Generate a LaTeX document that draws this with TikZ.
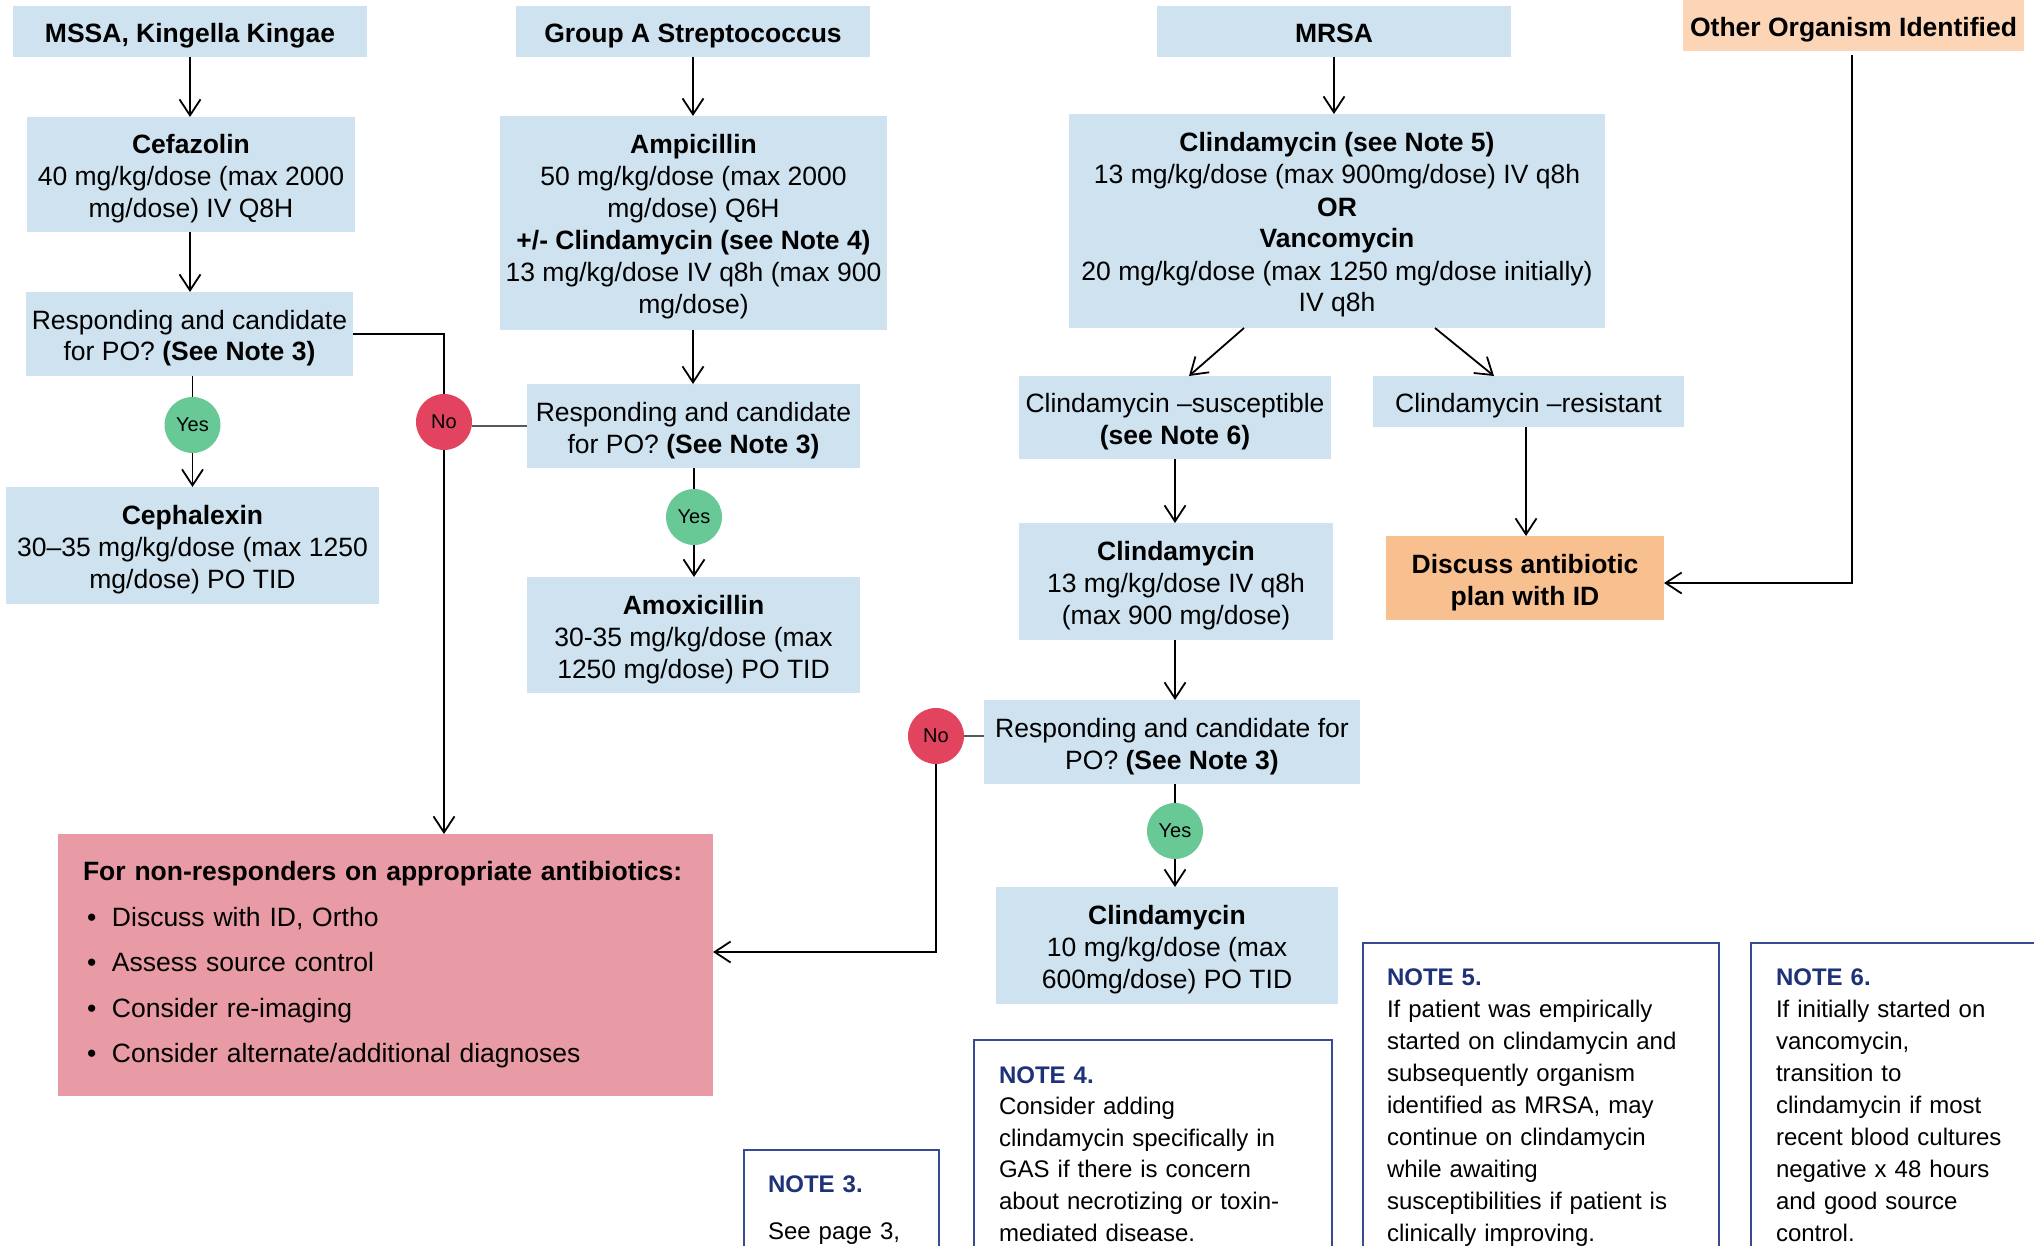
\documentclass[tikz,border=0pt]{standalone}
\usepackage{fontspec}
\setmainfont{Liberation Sans}
\usetikzlibrary{arrows.meta,calc}
\definecolor{boxblue}{RGB}{206,226,239}
\definecolor{otherorg}{RGB}{251,213,181}
\definecolor{discorg}{RGB}{249,192,143}
\definecolor{pinkbox}{RGB}{233,155,165}
\definecolor{yesgreen}{RGB}{104,201,151}
\definecolor{nored}{RGB}{226,68,96}
\definecolor{navy}{RGB}{30,50,120}
\definecolor{noteline}{RGB}{55,75,145}
\newcommand{\bigtxt}{\fontsize{26.5pt}{32pt}\selectfont}
\newcommand{\notetxt}{\fontsize{24pt}{32pt}\selectfont}
\newcommand{\nhead}[1]{\textcolor{navy}{\textbf{#1}}}
\newcommand{\fl}{\rule{0pt}{27.5pt}}
\begin{document}
\begin{tikzpicture}[x=1pt,y=-1pt,
  every node/.style={inner sep=0pt, outer sep=0pt, align=center, font=\bigtxt},
  box/.style 2 args={fill=boxblue, minimum width=#1pt, minimum height=#2pt},
  single/.style={text height=21.5pt, text depth=0pt},
  bold/.style={font=\bigtxt\bfseries},
  yesc/.style={circle, fill=yesgreen, minimum size=56pt, font=\fontsize{20pt}{24pt}\selectfont},
  noc/.style={circle, fill=nored, minimum size=56pt, font=\fontsize{20pt}{24pt}\selectfont},
  arr/.style={line width=1.8pt, -{Straight Barb[length=16pt,width=21pt]}},
  ln/.style={line width=1.8pt},
  thinln/.style={line width=1.3pt, draw=black!65},
  noteframe/.style={draw=noteline, line width=1.5pt, fill=white, minimum width=#1pt, minimum height=400pt, anchor=north west},
  notetext/.style={anchor=base west, align=left, text width=#1pt, font=\notetxt}
]
\useasboundingbox (0,0) rectangle (2034,1246);
\clip (0,0) rectangle (2034,1246);

% top row
\node[box={354}{51}, single, bold] (mssa) at (190,31.5) {MSSA, Kingella Kingae};
\node[box={354}{51}, single, bold] (gas) at (693,31.5) {Group A Streptococcus};
\node[box={354}{51}, single, bold] (mrsa) at (1334,31.5) {MRSA};
\node[box={341}{51}, single, fill=otherorg, bold] (other) at (1853.5,25.5) {Other Organism Identified};

% left column
\node[box={328}{115}] (cefaz) at (191,174.5) {\fl\textbf{Cefazolin}\\40 mg/kg/dose (max 2000\\mg/dose) IV Q8H};
\node[box={327}{84}] (resp1) at (189.5,334) {\fl Responding and candidate\\for PO? \textbf{(See Note 3)}};
\node[yesc] (yes1) at (192.5,425) {Yes};
\node[box={373}{117}] (ceph) at (192.5,545.5) {\fl\textbf{Cephalexin}\\30–35 mg/kg/dose (max 1250\\mg/dose) PO TID};
\node[noc] (no1) at (444,422) {No};

% middle column
\node[box={387}{214}] (ampi) at (693.5,223) {\fl\textbf{Ampicillin}\\50 mg/kg/dose (max 2000\\mg/dose) Q6H\\\textbf{+/- Clindamycin (see Note 4)}\\13 mg/kg/dose IV q8h (max 900\\mg/dose)};
\node[box={333}{84}] (resp2) at (693.5,426) {\fl Responding and candidate\\for PO? \textbf{(See Note 3)}};
\node[yesc] (yes2) at (694,517) {Yes};
\node[box={333}{116}] (amox) at (693.5,635) {\fl\textbf{Amoxicillin}\\30-35 mg/kg/dose (max\\1250 mg/dose) PO TID};

% MRSA column
\node[box={536}{214}] (clvan) at (1337,221) {\fl\textbf{Clindamycin (see Note 5)}\\13 mg/kg/dose (max 900mg/dose) IV q8h\\\textbf{OR}\\\textbf{Vancomycin}\\20 mg/kg/dose (max 1250 mg/dose initially)\\IV q8h};
\node[box={312}{83}] (susc) at (1175,417.5) {\fl Clindamycin –susceptible\\\textbf{(see Note 6)}};
\node[box={311}{51}, single] (resist) at (1528.5,401.5) {Clindamycin –resistant};
\node[box={314}{117}] (cliniv) at (1176,581.5) {\fl\textbf{Clindamycin}\\13 mg/kg/dose IV q8h\\(max 900 mg/dose)};
\node[box={278}{84}, fill=discorg, bold] (discuss) at (1525,578) {\fl Discuss antibiotic\\plan with ID};
\node[box={376}{84}] (resp3) at (1172,742) {\fl Responding and candidate for\\PO? \textbf{(See Note 3)}};
\node[noc] (no3) at (936,736) {No};
\node[yesc] (yes3) at (1175,831) {Yes};
\node[box={342}{117}] (clpo) at (1167,945.5) {\fl\textbf{Clindamycin}\\10 mg/kg/dose (max\\600mg/dose) PO TID};

% non-responders box
\node[box={655}{262}, fill=pinkbox] (pink) at (385.5,965) {};
\node[notetext=640, font=\fontsize{26.5pt}{45.5pt}\selectfont] (pinktxt) at (83,880.5) {\textbf{For non-responders on appropriate antibiotics:}\\
\hspace*{4pt}\makebox[25pt][l]{•}Discuss with ID, Ortho\\
\hspace*{4pt}\makebox[25pt][l]{•}Assess source control\\
\hspace*{4pt}\makebox[25pt][l]{•}Consider re-imaging\\
\hspace*{4pt}\makebox[25pt][l]{•}Consider alternate/additional diagnoses};

% notes
\node[noteframe=195] (n3) at (744,1150) {};
\node[notetext=180] (n3t) at (768,1192) {\nhead{NOTE 3.}\\[15pt]See page 3,};
\node[noteframe=358] (n4) at (974,1040) {};
\node[notetext=330, font=\fontsize{24pt}{31.6pt}\selectfont] (n4t) at (999,1083) {\nhead{NOTE 4.}\\Consider adding\\clindamycin specifically in\\GAS if there is concern\\about necrotizing or toxin-\\mediated disease.};
\node[noteframe=356] (n5) at (1363,943) {};
\node[notetext=330] (n5t) at (1387,985) {\nhead{NOTE 5.}\\If patient was empirically\\started on clindamycin and\\subsequently organism\\identified as MRSA, may\\continue on clindamycin\\while awaiting\\susceptibilities if patient is\\clinically improving.};
\node[noteframe=300] (n6) at (1751,943) {};
\node[notetext=260] (n6t) at (1776,985) {\nhead{NOTE 6.}\\If initially started on\\vancomycin,\\transition to\\clindamycin if most\\recent blood cultures\\negative x 48 hours\\and good source\\control.};

% connectors left
\draw[arr] (mssa.south) -- (mssa.south |- cefaz.north);
\draw[arr] (cefaz.south -| mssa.south) -- (mssa.south |- resp1.north);
\draw[ln] (resp1.south -| yes1) -- (yes1.north);
\draw[arr] (yes1.south) -- (yes1.south |- ceph.north);
\draw[ln] (resp1.east) -| (no1.north);
\draw[arr] (no1.south) -- (no1.south |- pink.north);
\draw[thinln] (resp2.west) -- (resp2.west -| no1.east);

% connectors middle
\draw[arr] (gas.south) -- (gas.south |- ampi.north);
\draw[arr] (ampi.south -| gas.south) -- (gas.south |- resp2.north);
\draw[ln] (resp2.south -| yes2) -- (yes2.north);
\draw[arr] (yes2.south) -- (yes2.south |- amox.north);

% connectors MRSA
\draw[arr] (mrsa.south) -- (mrsa.south |- clvan.north);
\draw[arr] ($(clvan.south)+(-93,0)$) -- ($(susc.north)+(14,0)$);
\draw[arr] ($(clvan.south)+(98,0)$) -- ($(resist.north)+(-34.5,0)$);
\draw[arr] (susc.south -| yes3) -- (yes3 |- cliniv.north);
\draw[arr] (cliniv.south -| yes3) -- (yes3 |- resp3.north);
\draw[ln] (resp3.south -| yes3) -- (yes3.north);
\draw[arr] (yes3.south) -- (yes3.south |- clpo.north);
\draw[thinln] (resp3.west |- no3) -- (no3.east);
\draw[arr] (no3.south) |- ($(pink.east)+(0,-13)$);
\draw[arr] ($(resist.south)+(-2.5,0)$) -- ($(resist.south |- discuss.north)+(-2.5,0)$);
\draw[arr] ($(other.south)+(-1.5,4)$) |- ($(discuss.east)+(0,5)$);
\end{tikzpicture}
\end{document}
